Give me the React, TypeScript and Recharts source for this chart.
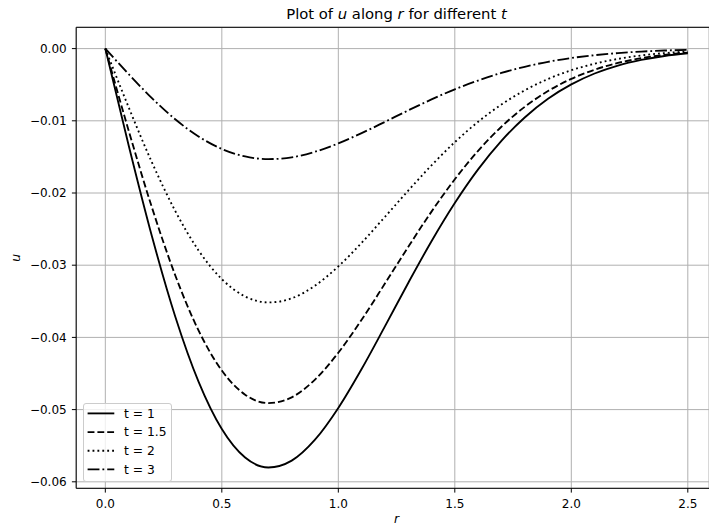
import React from 'react';
import { LineChart, Line, XAxis, YAxis, CartesianGrid, Legend, Label, ReferenceLine } from 'recharts';

const rValues = [0, 0.1, 0.2, 0.3, 0.4, 0.5, 0.6, 0.7, 0.8, 0.9, 1.0, 1.1, 1.2, 1.3, 1.4, 1.5, 1.6, 1.7, 1.8, 1.9, 2.0, 2.1, 2.2, 2.3, 2.4, 2.5];
const uT1 = [0, -0.01339, -0.026, -0.0371, -0.04612, -0.05269, -0.05664, -0.05802, -0.05707, -0.05417, -0.04977, -0.04438, -0.03847, -0.03246, -0.02668, -0.02139, -0.01673, -0.01278, -0.00954, -0.00695, -0.00496, -0.00345, -0.00235, -0.00157, -0.00102, -0.00065];
const uT15 = [0, -0.01134, -0.022, -0.03139, -0.03903, -0.04459, -0.04793, -0.0491, -0.0483, -0.04584, -0.04212, -0.03756, -0.03255, -0.02747, -0.02258, -0.0181, -0.01416, -0.01082, -0.00807, -0.00588, -0.00419, -0.00292, -0.00199, -0.00133, -0.00087, -0.00055];
const uT2 = [0, -0.00812, -0.01576, -0.02248, -0.02795, -0.03193, -0.03433, -0.03516, -0.03459, -0.03283, -0.03017, -0.0269, -0.02331, -0.01967, -0.01617, -0.01296, -0.01014, -0.00775, -0.00578, -0.00421, -0.003, -0.00209, -0.00143, -0.00095, -0.00062, -0.0004];
const uT3 = [0, -0.00353, -0.00686, -0.00979, -0.01217, -0.0139, -0.01494, -0.01531, -0.01506, -0.01429, -0.01313, -0.01171, -0.01015, -0.00856, -0.00704, -0.00564, -0.00442, -0.00337, -0.00252, -0.00183, -0.00131, -0.00091, -0.00062, -0.00041, -0.00027, -0.00017];

const seriesKeys = ['t1', 't15', 't2', 't3'];
const seriesLabels = ['t = 1', 't = 1.5', 't = 2', 't = 3'];
const xTicks = [0, 0.5, 1.0, 1.5, 2.0, 2.5];
const yTicks = [0, -0.01, -0.02, -0.03, -0.04, -0.05, -0.06];

const data = rValues.map((r, i) => ({ r, t1: uT1[i], t15: uT15[i], t2: uT2[i], t3: uT3[i] }));

const FONT = "'DejaVu Sans', sans-serif";
const LW = 1.85;
const dashes = ['', '6.85 2.96', '1.85 3.06', '11.86 2.96 1.85 2.96'];

const W = 709;
const H = 527;
// visible part of the axes: the right spine of the original lies just outside the picture
const X_DOMAIN: [number, number] = [-0.125, 2.591];
const Y_DOMAIN: [number, number] = [-0.0609, 0.00295];

const fmtY = (v: number) => (v === 0 ? '0.00' : (v < 0 ? '\u2212' : '') + Math.abs(v).toFixed(2));
const fmtX = (v: number) => v.toFixed(1);

const renderLegend = () => (
  <div
    style={{
      width: 89.3,
      height: 78.4,
      boxSizing: 'border-box',
      border: '1px solid #cccccc',
      borderRadius: 3,
      background: 'rgba(255,255,255,0.8)',
      position: 'relative',
    }}
  >
    <svg width={89.3} height={78.4} style={{ position: 'absolute', left: -1, top: -1 }}>
      {seriesLabels.map((lab, i) => {
        const cy = 10.4 + i * 18.67;
        return (
          <g key={lab}>
            <line
              x1={4.6}
              x2={31.3}
              y1={cy}
              y2={cy}
              stroke="#000"
              strokeWidth={LW}
              strokeDasharray={dashes[i] || undefined}
            />
            <text x={41} y={cy + 4.4} fontSize={12.3} fontFamily={FONT} fill="#000">
              {lab}
            </text>
          </g>
        );
      })}
    </svg>
  </div>
);

export default function App() {
  return (
    <div style={{ position: 'absolute', left: 0, top: 0, width: 709, height: 527, overflow: 'hidden', background: '#fff' }}>
      <LineChart width={W} height={H} data={data} margin={{ top: 27.3, right: 0, left: 0, bottom: 0 }}>
        <CartesianGrid stroke="#b0b0b0" strokeWidth={1} />
        <XAxis
          type="number"
          dataKey="r"
          domain={X_DOMAIN}
          allowDataOverflow
          ticks={xTicks}
          tickFormatter={fmtX}
          height={38.7}
          stroke="#000"
          tickSize={4.3}
          tickMargin={6.7}
          tick={{ fill: '#000', fontSize: 12, fontFamily: FONT }}
          axisLine={{ stroke: '#000', strokeWidth: 1 }}
          tickLine={{ stroke: '#000', strokeWidth: 1 }}
        >
          <Label
            content={(p: any) => {
              const vb = p.viewBox || { x: 76.2, y: 488.3 };
              return (
                <text x={396.5} y={vb.y + 34.7} textAnchor="middle" fontSize={12.3} fontFamily={FONT} fontStyle="italic" fill="#000">
                  r
                </text>
              );
            }}
          />
        </XAxis>
        <YAxis
          type="number"
          domain={Y_DOMAIN}
          allowDataOverflow
          ticks={yTicks}
          tickFormatter={fmtY}
          width={76.2}
          stroke="#000"
          tickSize={4.3}
          tickMargin={5.2}
          tick={{ fill: '#000', fontSize: 12, fontFamily: FONT }}
          axisLine={{ stroke: '#000', strokeWidth: 1 }}
          tickLine={{ stroke: '#000', strokeWidth: 1 }}
        >
          <Label
            content={(p: any) => {
              const vb = p.viewBox || { x: 0, y: 27.3, height: 461 };
              const cx = vb.x + 20.5;
              const cy = vb.y + vb.height / 2;
              return (
                <text x={cx} y={cy} transform={`rotate(-90 ${cx} ${cy})`} textAnchor="middle" fontSize={12.3} fontFamily={FONT} fontStyle="italic" fill="#000">
                  u
                </text>
              );
            }}
          />
        </YAxis>
        <ReferenceLine y={Y_DOMAIN[1]} stroke="#000" strokeWidth={1} ifOverflow="visible" />
        {seriesKeys.map((k, i) => (
          <Line
            key={k}
            dataKey={k}
            name={seriesLabels[i]}
            type="monotone"
            stroke="#000"
            strokeWidth={LW}
            strokeDasharray={dashes[i] || undefined}
            dot={false}
            activeDot={false}
            isAnimationActive={false}
          />
        ))}
        <Legend
          layout="horizontal"
          verticalAlign="middle"
          align="center"
          content={renderLegend}
          wrapperStyle={{ left: 82.7, top: 403.3, width: 89.3, height: 78.4 }}
        />
      </LineChart>
      <svg width={709} height={30} style={{ position: 'absolute', left: 0, top: 0, pointerEvents: 'none' }}>
        <text x={396.5} y={19} textAnchor="middle" fontSize={14.8} fontFamily={FONT} fill="#000">
          {'Plot of '}
          <tspan fontStyle="italic">u</tspan>
          {' along '}
          <tspan fontStyle="italic">r</tspan>
          {' for different '}
          <tspan fontStyle="italic">t</tspan>
        </text>
      </svg>
    </div>
  );
}
